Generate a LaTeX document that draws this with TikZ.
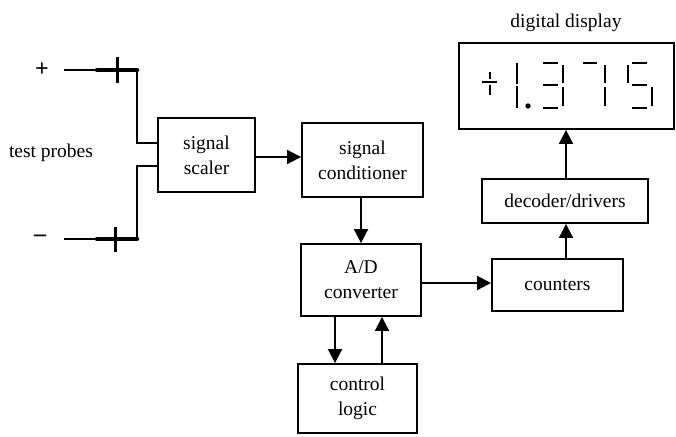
\documentclass[tikz,border=0pt]{standalone}
\usepackage{fontspec}
\setmainfont{Liberation Serif}
\usetikzlibrary{arrows.meta}
\begin{document}
\begin{tikzpicture}[x=1pt,y=-1pt,
  box/.style={draw,line width=1.9pt,rectangle,inner sep=0pt,align=center,
    font=\fontsize{19.5}{25}\selectfont},
  lbl/.style={inner sep=0pt,font=\fontsize{19.5}{25}\selectfont},
  sign/.style={inner sep=0pt,font=\fontsize{24}{24}\selectfont\bfseries},
  wire/.style={line width=1.9pt},
  arr/.style={line width=1.9pt,-{Triangle[length=14pt,width=14pt]}},
  seg/.style={line width=2.2pt},
  tipbar/.style={line width=4.5pt,line cap=round},
  cross/.style={line width=3pt}]
\useasboundingbox (0,0) rectangle (676,436);

% boxes
\node[box,minimum width=97pt,minimum height=74pt] (scaler) at (206.5,155) {signal\\scaler};
\node[box,minimum width=121pt,minimum height=74pt] (cond) at (362.5,160) {signal\\conditioner};
\node[box,minimum width=120pt,minimum height=72pt] (ad) at (361,280) {A/D\\converter};
\node[box,minimum width=119pt,minimum height=69pt] (ctrl) at (357.5,398.5) {control\\logic};
\node[box,minimum width=131pt,minimum height=52pt] (counters) at (557.5,285) {counters};
\node[box,minimum width=166pt,minimum height=44pt] (decoder) at (565,201) {decoder/drivers};
\node[draw,line width=1.9pt,minimum width=215pt,minimum height=86pt,inner sep=0pt] (display) at (566.5,86) {};

% labels
\node[lbl] (dlabel) at (566,23) {digital display};
\node[lbl] (tp) at (51,153) {test probes};
\node[sign] (plus) at (42,70) {+};
\node[sign] (minus) at (40,238) {–};

% probes
\coordinate (pp) at (64,70);
\coordinate (pt) at (137,70);
\coordinate (ph) at (97,70);
\coordinate (mp) at (64,239);
\coordinate (mt) at (137,239);
\coordinate (mh) at (97,239);
\draw[wire] (pp) -- (pt) |- ([yshift=12pt]scaler.west);
\draw[wire] (mp) -- (mt) |- ([yshift=-11pt]scaler.west);
\draw[tipbar] (ph) -- (pt);
\draw[tipbar] (mh) -- (mt);
\draw[cross] (117,57) -- (117,83);
\draw[cross] (115,227) -- (115,252);

% arrows
\draw[arr] ([yshift=-2pt]scaler.east) -- ([yshift=-2pt]scaler.east -| cond.west);
\draw[arr] ([xshift=-1.5pt]cond.south) -- ([xshift=-1.5pt]cond.south |- ad.north);
\draw[arr] ([yshift=-3pt]ad.east) -- ([yshift=-3pt]ad.east -| counters.west);
\draw[arr] ([xshift=-26pt]ad.south) -- ([xshift=-26pt]ad.south |- ctrl.north);
\draw[arr] ([xshift=24.5pt]ctrl.north) -- ([xshift=24.5pt]ctrl.north |- ad.south);
\draw[arr] ([xshift=8.5pt]counters.north) -- ([xshift=8.5pt]counters.north |- decoder.south);
\draw[arr] ([xshift=1pt]decoder.north) -- ([xshift=1pt]decoder.north |- display.south);

% seven-segment readout
% sign
\draw[seg] (482,82) -- (497,82);
\draw[seg] (490,72) -- (490,79);
\draw[seg] (490,85) -- (490,95);
% 1
\draw[seg] (517,63) -- (517,84);
\draw[seg] (517,86) -- (517,108);
\fill (528,106) circle (2.7pt);
% 3
\draw[seg] (543,63) -- (558,63);
\draw[seg] (543,85) -- (558,85);
\draw[seg] (543,108) -- (558,108);
\draw[seg] (563,65) -- (563,83);
\draw[seg] (563,87) -- (563,106);
% 7
\draw[seg] (583,63) -- (597,63);
\draw[seg] (605,65) -- (605,83);
\draw[seg] (605,87) -- (605,106);
% 5
\draw[seg] (632,63) -- (647,63);
\draw[seg] (628,65) -- (628,83);
\draw[seg] (632,85) -- (647,85);
\draw[seg] (652,87) -- (652,106);
\draw[seg] (632,108) -- (647,108);
\end{tikzpicture}
\end{document}
